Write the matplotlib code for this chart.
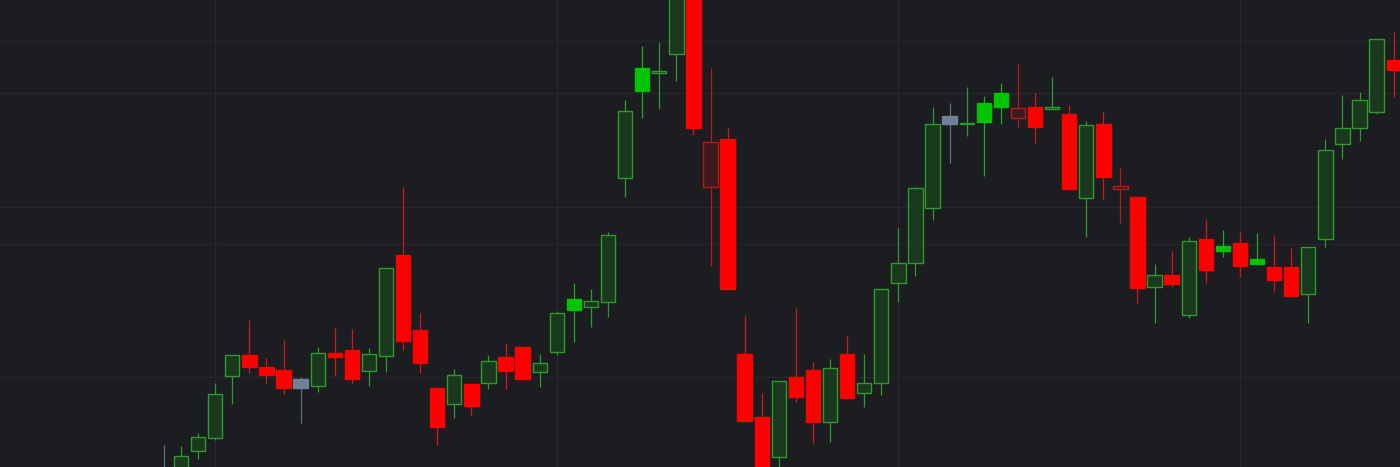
import matplotlib
matplotlib.use("Agg")
import matplotlib.pyplot as plt
import numpy as np

# OHLC values (one entry per candle, left to right)
opens = [-3, -8, 16, 29, 91, 112, 100, 97, 88, 81, 114, 117, 96, 111, 212, 137, 79, 63, 83, 84,
         110, 120, 95, 115, 168, 160, 165, 289, 399, 394, 413, 472, 280, 328, 113, 50, 10, 90, 97, 45,
         113, 74, 84, 184, 204, 259, 351, 343, 364, 374, 349, 360, 358, 353, 269, 343, 278, 270, 180, 192,
         152, 228, 221, 224, 208, 200, 200, 173, 228, 323, 339, 355, 407]
highs = [22, 21, 34, 84, 112, 147, 109, 127, 90, 120, 139, 138, 119, 199, 280, 154, 79, 98, 83, 112,
         124, 120, 113, 156, 184, 178, 235, 367, 421, 425, 487, 482, 399, 339, 152, 74, 86, 159, 105, 108,
         131, 113, 178, 239, 280, 360, 364, 380, 371, 384, 403, 374, 390, 362, 346, 356, 299, 270, 203, 216,
         230, 248, 237, 235, 234, 232, 219, 220, 328, 372, 375, 428, 435]
lows = [-23, -18, 8, 27, 63, 94, 83, 73, 44, 75, 91, 83, 81, 95, 117, 94, 22, 49, 52, 78,
        78, 88, 80, 112, 125, 140, 150, 270, 349, 358, 386, 332, 201, 178, 46, -28, -5, 65, 24, 25,
        67, 60, 72, 165, 191, 247, 304, 331, 291, 343, 340, 324, 358, 278, 230, 268, 244, 164, 144, 180,
        149, 184, 210, 190, 203, 175, 171, 144, 220, 308, 326, 353, 370]
closes = [-11, 11, 30, 73, 112, 100, 92, 79, 79, 114, 110, 88, 113, 199, 126, 104, 40, 92, 61, 106,
          96, 88, 104, 154, 157, 166, 232, 356, 376, 396, 477, 339, 325, 178, 46, -18, 86, 70, 45, 99,
          69, 84, 178, 204, 279, 343, 343, 344, 345, 360, 359, 340, 360, 278, 342, 290, 281, 179, 192, 183,
          226, 197, 216, 201, 203, 187, 171, 220, 317, 339, 367, 428, 397]

grid_prices = [426, 374, 260, 223, 90]
grid_bars = [3, 23, 43, 63]

bg = "#1c1d20"
green_line, green_fill, green_solid = "#2c9a2c", "#1a381d", "#00c400"
red_line, red_fill, red_solid = "#b01c1c", "#3c1a1e", "#ff0000"
gray_fill, gray_line = "#6f8198", "#5f6d80"

fig = plt.figure(figsize=(14, 4.67), dpi=100, facecolor=bg)
ax = fig.add_axes([0, 0, 1, 1])
ax.set_facecolor(bg)

x = np.arange(len(opens))
prev = [None] + closes[:-1]
face, edge, wick = [], [], []
for o, c, p in zip(opens, closes, prev):
    hollow = c > o
    if p is None or c == p:
        f, e, w = gray_fill, gray_fill, gray_line
    elif c > p:
        f, e, w = (green_fill, green_line, green_line) if hollow else (green_solid, green_solid, "#20a820")
    else:
        f, e, w = (red_fill, red_line, red_line) if hollow else (red_solid, red_solid, "#d01818")
    face.append(f)
    edge.append(e)
    wick.append(w)

ax.vlines(x, lows, highs, colors=wick, linewidth=0.9, zorder=2)
bottoms = np.minimum(opens, closes)
heights = np.maximum(np.abs(np.array(closes) - np.array(opens)), 1.2)
ax.bar(x, heights, bottom=bottoms, width=0.84, color=face, edgecolor=edge,
       linewidth=1.0, zorder=3)

ax.set_xlim(-9.6, 72.37)
ax.set_ylim(0, 467)
ax.set_xticks(grid_bars)
ax.set_yticks(grid_prices)
ax.grid(True, color="#25272b", linewidth=1.0, zorder=0)
ax.tick_params(length=0, labelbottom=False, labelleft=False)
for s in ax.spines.values():
    s.set_visible(False)

fig.savefig("out.png", dpi=100, facecolor=bg)
